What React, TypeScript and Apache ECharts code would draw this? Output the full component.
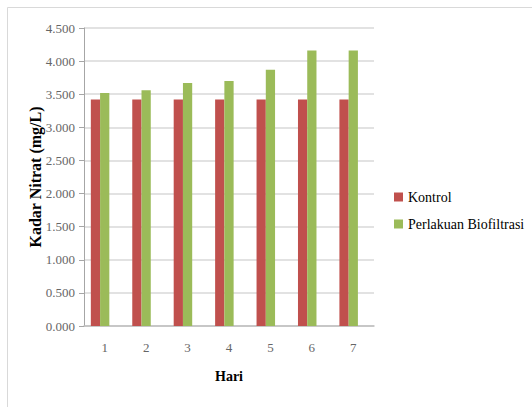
import React, { useEffect, useRef } from "react";
import * as echarts from "echarts";

const categories = ["1", "2", "3", "4", "5", "6", "7"];
const kontrol = [3.42, 3.42, 3.42, 3.42, 3.42, 3.42, 3.42];
const biofiltrasi = [3.52, 3.56, 3.67, 3.7, 3.87, 4.16, 4.16];
// The original chart reserves an empty third bar slot in each category
const emptySlot: (number | null)[] = [null, null, null, null, null, null, null];
const seriesNames = ["Kontrol", "Perlakuan Biofiltrasi"];

const FONT = "Liberation Serif";

export default function App() {
  const ref = useRef<HTMLDivElement>(null);
  useEffect(() => {
    if (!ref.current) return;
    const chart = echarts.init(ref.current, undefined, { renderer: "svg" });
    chart.setOption({
      animation: false,
      backgroundColor: "#ffffff",
      textStyle: { fontFamily: FONT },
      graphic: [
        {
          type: "rect",
          shape: { x: 7.5, y: 7.5, width: 540, height: 420 },
          style: { fill: "none", stroke: "#d9d9d9", lineWidth: 1 },
          silent: true,
        },
      ],
      grid: { left: 84, right: 158, top: 28, bottom: 81 },
      legend: {
        orient: "vertical",
        left: 389,
        top: 185,
        itemWidth: 9,
        itemHeight: 9,
        itemGap: 13,
        icon: "rect",
        textStyle: { fontFamily: FONT, fontSize: 14, color: "#000" },
        data: seriesNames,
      },
      xAxis: {
        type: "category",
        data: categories,
        name: "Hari",
        nameLocation: "middle",
        nameGap: 43,
        nameMoveOverlap: false,
        nameTextStyle: { fontFamily: FONT, fontSize: 14, fontWeight: "bold", color: "#000" },
        axisLine: { lineStyle: { color: "#bfbfbf", width: 1.5 } },
        axisTick: { show: false },
        axisLabel: { fontFamily: FONT, fontSize: 13, color: "#666", margin: 15 },
      },
      yAxis: {
        type: "value",
        min: 0,
        max: 4.5,
        interval: 0.5,
        name: "Kadar Nitrat (mg/L)",
        nameLocation: "middle",
        nameGap: 41,
        nameMoveOverlap: false,
        nameTextStyle: { fontFamily: FONT, fontSize: 16, fontWeight: "bold", color: "#000" },
        axisLine: { show: true, lineStyle: { color: "#a6a6a6", width: 1 } },
        axisTick: { show: true, length: 5, lineStyle: { color: "#a6a6a6" } },
        axisLabel: {
          fontFamily: FONT,
          fontSize: 13,
          color: "#666",
          margin: 9,
          formatter: (v: number) => v.toFixed(3),
        },
        splitLine: { lineStyle: { color: "#d9d9d9", width: 1.5 } },
      },
      series: [
        {
          name: seriesNames[0],
          type: "bar",
          data: kontrol,
          itemStyle: { color: "#C0504D" },
          barGap: "0%",
          barCategoryGap: "33%",
        },
        {
          name: seriesNames[1],
          type: "bar",
          data: biofiltrasi,
          itemStyle: { color: "#9BBB59" },
          barGap: "0%",
          barCategoryGap: "33%",
        },
        {
          name: "_empty",
          type: "bar",
          data: emptySlot,
          itemStyle: { color: "#4F81BD" },
          barGap: "0%",
          barCategoryGap: "33%",
        },
      ],
    });
    return () => chart.dispose();
  }, []);
  return (
    <div
      ref={ref}
      style={{ position: "fixed", left: 0, top: 0, width: 532, height: 407 }}
    />
  );
}
